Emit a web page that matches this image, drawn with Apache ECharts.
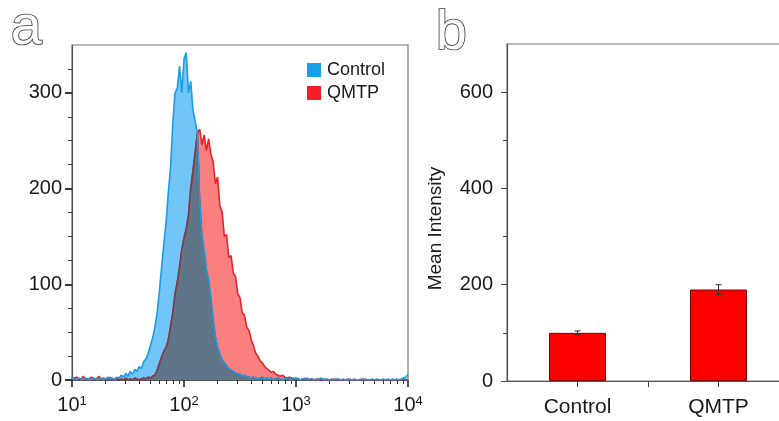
<!DOCTYPE html>
<html>
<head>
<meta charset="utf-8">
<script src="https://cdn.jsdelivr.net/npm/echarts@6/dist/echarts.min.js"></script>
<style>
html,body{margin:0;padding:0;background:#fff;}
#chart{width:779px;height:421px;}
</style>
</head>
<body>
<div id="chart"></div>
<script>
// ---------- Panel a: flow cytometry histogram ----------
// bins are log10(intensity), starting at 1.00 and spaced 0.02 apart
var binStart = 1.0;
var binWidth = 0.02;
var controlCounts = [
  2,1,0,2,1,0,2,1,0,1,2,0,1,2,0,1,3,1,2,0,3,
  2,5,3,7,4,9,6,11,9,14,12,19,22,28,36,44,
  55,70,92,118,142,165,196,222,268,300,
  305,328,300,335,342,300,312,282,270,258,
  185,150,135,115,104,85,62,45,33,27,21,18,15,
  12,10,9,7,6,6,4,5,3,3,2,
  3,2,1,2,3,1,2,1,2,0,1,2,1,0,2,1,1,0,2,1,
  1,0,1,2,0,1,1,0,1,0,2,1,0,1,0,1,0,1,1,0,
  1,0,0,1,0,1,0,0,1,0,1,0,0,1,0,1,0,0,1,0,
  1,0,1,0,1,0,1,2,3,6
];
var qmtpCounts = [
  1,2,3,1,0,4,1,0,2,3,0,1,4,0,2,1,0,3,0,1,2,
  0,1,0,2,0,1,0,2,1,0,1,2,1,3,2,4,
  5,10,17,24,30,34,42,56,70,90,
  102,118,136,148,158,172,200,218,238,258,
  262,246,256,240,252,236,228,205,212,182,176,150,152,
  128,130,112,108,90,86,70,68,55,52,42,
  36,28,25,20,18,14,12,10,8,9,6,5,4,5,3,2,3,2,1,2,
  1,0,1,0,2,0,1,0,0,1,0,0,1,0,0,0,1,0,0,0,
  0,0,1,0,0,0,0,0,0,1,0,0,0,0,0,0,0,0,0,0,
  0,0,0,0,0,0,0,0,0,0
];
var histXTicks = [1, 2, 3, 4];            // decades: 10^1 .. 10^4
var histYTicks = [0, 100, 200, 300];
var histYMinorTicks = [25, 50, 75, 125, 150, 175, 225, 250, 275, 325];
var logMinorMultipliers = [2, 3, 4, 5, 6, 7, 8, 9];

// ---------- Panel b: mean intensity bars ----------
var categories = ['Control', 'QMTP'];
var meanIntensity = [100, 190];
var meanError = [4, 10];
var barYTicks = [0, 200, 400, 600];
var barYMinorTicks = [100, 300, 500];

function pairs(vals) {
  return vals.map(function (v, i) { return [+(binStart + i * binWidth).toFixed(2), v]; });
}
var ctrlData = pairs(controlCounts);
var qmtpData = pairs(qmtpCounts);
var overlapData = pairs(controlCounts.map(function (v, i) { return Math.min(v, qmtpCounts[i]); }));

var minorX = [];
for (var d = 1; d < 4; d++) {
  logMinorMultipliers.forEach(function (k) { minorX.push(d + Math.log10(k)); });
}
var catPositions = categories.map(function (c, i) { return i; });

var FONT = '"Liberation Sans", Arial, sans-serif';
var axisCol = '#555';
var txtCol = '#1a1a1a';

var chart = echarts.init(document.getElementById('chart'), null, {renderer: 'canvas'});
var option = {
  animation: false,
  backgroundColor: '#fff',
  textStyle: {fontFamily: FONT},
  graphic: [
    {type: 'text', left: 10, top: 0, style: {text: 'a', font: '56px ' + FONT, fill: '#fff', stroke: '#3c3c3c', lineWidth: 1.7}},
    {type: 'text', left: 435, top: 5, style: {text: 'b', font: '56px ' + FONT, fill: '#fff', stroke: '#3c3c3c', lineWidth: 1.7}}
  ],
  legend: {
    left: 302, top: 56, orient: 'vertical', itemWidth: 14, itemHeight: 14, itemGap: 5,
    icon: 'rect', selectedMode: false,
    textStyle: {fontSize: 18, color: txtCol, fontFamily: FONT, padding: [0, 0, 0, 1]},
    data: [
      {name: 'Control', itemStyle: {color: '#16a0ee'}},
      {name: 'QMTP', itemStyle: {color: '#f41f26'}}
    ]
  },
  grid: [
    {left: 72, width: 336, top: 45, height: 335, outerBoundsMode: 'none', containLabel: false,
     show: true, borderColor: '#777', borderWidth: 1.2, backgroundColor: 'transparent'},
    {left: 507, width: 282, top: 44, height: 337, outerBoundsMode: 'none', containLabel: false,
     show: true, borderColor: '#777', borderWidth: 1.2, backgroundColor: 'transparent'}
  ],
  xAxis: [
    {
      type: 'value', gridIndex: 0, min: 1, max: 4, interval: 1,
      axisLine: {onZero: false, lineStyle: {color: axisCol, width: 1.2}},
      axisTick: {length: 7, lineStyle: {color: '#222', width: 1.5}, customValues: histXTicks},
      splitLine: {show: false},
      axisLabel: {
        margin: 15, customValues: histXTicks,
        formatter: function (v) { return '{b|10}{s|' + Math.round(v) + '}'; },
        rich: {
          b: {fontSize: 20, color: txtCol, fontFamily: FONT},
          s: {fontSize: 13, color: txtCol, fontFamily: FONT, verticalAlign: 'top', padding: [0, 0, 8, 0]}
        }
      }
    },
    {
      type: 'value', gridIndex: 0, min: 1, max: 4, position: 'bottom',
      axisLine: {show: false, onZero: false}, axisLabel: {show: false}, splitLine: {show: false},
      axisTick: {length: 4, lineStyle: {color: '#333', width: 1}, customValues: minorX}
    },
    {
      type: 'value', gridIndex: 1, min: -0.5, max: 1.5, interval: 0.5,
      axisLine: {onZero: false, lineStyle: {color: axisCol, width: 1.2}},
      axisTick: {length: 6, lineStyle: {color: '#444', width: 1}, customValues: [0.5]},
      splitLine: {show: false},
      axisLabel: {
        margin: 16, fontSize: 21, color: txtCol, fontFamily: FONT, customValues: catPositions,
        formatter: function (v) { return categories[Math.round(v)]; }
      }
    }
  ],
  yAxis: [
    {
      type: 'value', gridIndex: 0, min: 0, max: 350,
      axisLine: {show: true, onZero: false, lineStyle: {color: axisCol, width: 1.2}},
      axisTick: {show: true, length: 7, lineStyle: {color: '#222', width: 1.8}, customValues: histYTicks},
      splitLine: {show: false},
      axisLabel: {margin: 10, fontSize: 20, color: txtCol, fontFamily: FONT, customValues: histYTicks}
    },
    {
      type: 'value', gridIndex: 0, min: 0, max: 350, position: 'left',
      axisLine: {show: false, onZero: false}, axisLabel: {show: false}, splitLine: {show: false},
      axisTick: {show: true, length: 4, lineStyle: {color: '#444', width: 1}, customValues: histYMinorTicks}
    },
    {
      type: 'value', gridIndex: 1, min: 0, max: 700,
      name: 'Mean Intensity', nameLocation: 'middle', nameGap: 62, nameRotate: 90,
      nameTextStyle: {fontSize: 19, color: txtCol, fontFamily: FONT, padding: [0, 32, 0, 0]},
      axisLine: {show: true, onZero: false, lineStyle: {color: axisCol, width: 1.2}},
      axisTick: {show: true, length: 6, lineStyle: {color: '#444', width: 1}, customValues: barYTicks},
      splitLine: {show: false},
      axisLabel: {margin: 14, fontSize: 20, color: txtCol, fontFamily: FONT, customValues: barYTicks}
    },
    {
      type: 'value', gridIndex: 1, min: 0, max: 700, position: 'left',
      axisLine: {show: false, onZero: false}, axisLabel: {show: false}, splitLine: {show: false},
      axisTick: {show: true, length: 4, lineStyle: {color: '#444', width: 1}, customValues: barYMinorTicks}
    }
  ],
  series: [
    // fills
    {name: 'QMTP', type: 'line', xAxisIndex: 0, yAxisIndex: 0, data: qmtpData, symbol: 'none',
     lineStyle: {width: 0}, areaStyle: {color: '#fa8080', opacity: 1}, itemStyle: {color: '#f41f26'}},
    {name: 'Control', type: 'line', xAxisIndex: 0, yAxisIndex: 0, data: ctrlData, symbol: 'none',
     lineStyle: {width: 0}, areaStyle: {color: '#72c5f7', opacity: 1}, itemStyle: {color: '#16a0ee'}},
    {name: 'overlap', type: 'line', xAxisIndex: 0, yAxisIndex: 0, data: overlapData, symbol: 'none',
     lineStyle: {width: 0}, areaStyle: {color: '#617588', opacity: 1}},
    // outlines
    {name: 'QMTP line', type: 'line', xAxisIndex: 0, yAxisIndex: 0, data: qmtpData, symbol: 'none',
     lineStyle: {width: 1.6, color: '#e8232b'}},
    {name: 'overlap line', type: 'line', xAxisIndex: 0, yAxisIndex: 0, data: overlapData, symbol: 'none',
     lineStyle: {width: 1.6, color: '#6c4656'}},
    {name: 'Control line', type: 'line', xAxisIndex: 0, yAxisIndex: 0, data: ctrlData, symbol: 'none',
     lineStyle: {width: 1.6, color: '#1b9de2'}},
    // panel b bars
    {name: 'Mean', type: 'bar', xAxisIndex: 2, yAxisIndex: 2, barWidth: 57,
     data: meanIntensity.map(function (v, i) { return [i, v]; }),
     itemStyle: {color: '#ff0000', borderColor: '#7a0000', borderWidth: 1}},
    {name: 'err', type: 'custom', xAxisIndex: 2, yAxisIndex: 2, clip: false,
     data: meanIntensity.map(function (v, i) { return [i, v - meanError[i], v + meanError[i]]; }),
     renderItem: function (params, api) {
       var lo = api.coord([api.value(0), api.value(1)]);
       var hi = api.coord([api.value(0), api.value(2)]);
       var base = api.coord([api.value(0), 0]);
       var cw = 3;
       var st = {stroke: '#333', lineWidth: 1};
       return {type: 'group', children: [
         {type: 'line', shape: {x1: lo[0], y1: lo[1], x2: hi[0], y2: hi[1]}, style: st},
         {type: 'line', shape: {x1: lo[0] - cw, y1: lo[1], x2: lo[0] + cw, y2: lo[1]}, style: st},
         {type: 'line', shape: {x1: hi[0] - cw, y1: hi[1], x2: hi[0] + cw, y2: hi[1]}, style: st},
         // category tick below the axis at the bar centre
         {type: 'line', shape: {x1: base[0], y1: base[1], x2: base[0], y2: base[1] + 6}, style: {stroke: '#444', lineWidth: 1}}
       ]};
     }, z: 5}
  ]
};
chart.setOption(option);
</script>
</body>
</html>
